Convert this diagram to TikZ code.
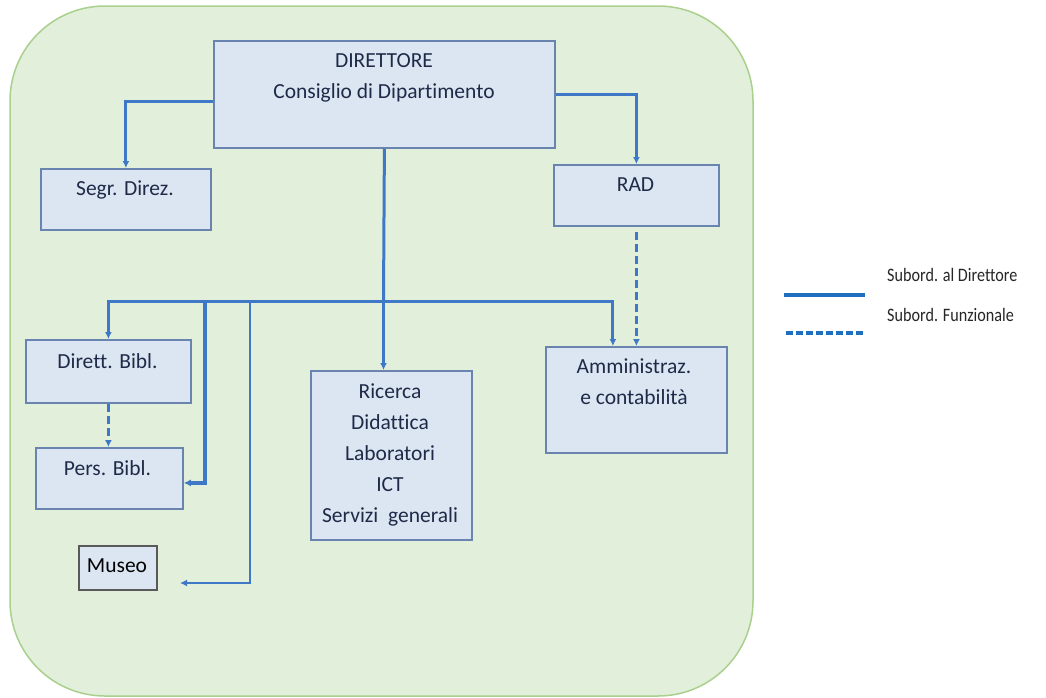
\documentclass[tikz,border=0pt]{standalone}
\usepackage{fontspec}
\setmainfont[Ligatures={NoCommon}]{Carlito}
\usetikzlibrary{arrows.meta}
\definecolor{bgfill}{HTML}{E2EFDA}
\definecolor{bgline}{HTML}{A9D08E}
\definecolor{boxfill}{HTML}{DCE6F2}
\definecolor{boxline}{HTML}{6A84B0}
\definecolor{connc}{HTML}{3F78C6}
\definecolor{legc}{HTML}{1F6FC0}
\definecolor{txtc}{HTML}{1F2A48}
\begin{document}
\begin{tikzpicture}[x=1pt,y=-1pt,
  box/.style={draw=boxline,fill=boxfill,line width=1.8pt,inner sep=0pt,anchor=north west},
  museobox/.style={box,draw=black!65},
  txt/.style={text=txtc,font=\fontsize{21.5}{31}\selectfont,align=center,inner sep=0pt},
  legtxt/.style={text=black!85,font=\fontsize{19}{22}\selectfont,inner sep=0pt,anchor=base west},
  conn/.style={draw=connc,line width=3pt,-{Latex[length=7pt,width=7pt]}},
  thickconn/.style={conn,line width=4pt},
  thinconn/.style={conn,line width=2.6pt},
  dconn/.style={conn,line width=2.6pt,dash pattern=on 8pt off 4pt},
  legline/.style={draw=legc,line width=3.4pt},
]
\useasboundingbox (0,0) rectangle (1046,697);
% background
\filldraw[fill=bgfill,draw=bgline,line width=1.5pt,rounded corners=95pt] (10,6) rectangle (753,696);

% boxes
\node[box,minimum width=341pt,minimum height=107pt] (dir) at (213,40) {};
\node[box,minimum width=170pt,minimum height=61pt] (segr) at (40,168) {};
\node[box,minimum width=165pt,minimum height=61pt] (rad) at (553,164) {};
\node[box,minimum width=165pt,minimum height=63pt] (dirett) at (25,339) {};
\node[box,minimum width=147pt,minimum height=61pt] (pers) at (35,447) {};
\node[museobox,minimum width=78pt,minimum height=44pt] (museo) at (78,545) {};
\node[box,minimum width=161pt,minimum height=169pt] (ric) at (310,370) {};
\node[box,minimum width=181pt,minimum height=106pt] (amm) at (545,346) {};

% texts
\node[txt] (dirT) at (384,78) {DIRETTORE\\Consiglio di Dipartimento};
\node[txt] (segrT) at (125,190) {Segr. Direz.};
\node[txt] (radT) at (635.5,185) {RAD};
\node[txt] (direttT) at (107.5,361) {Dirett. Bibl.};
\node[txt] (persT) at (107.5,468) {Pers. Bibl.};
\node[txt,text=black] (museoT) at (117,566) {Museo};
\node[txt] (ricT) at (390,455) {Ricerca\\Didattica\\Laboratori\\ICT\\Servizi\ \ generali};
\node[txt] (ammT) at (634,382) {Amministraz.\\e contabilità};

% connectors
\draw[conn] ([yshift=-7.5pt]dir.west) -| (segr.north);
\draw[conn] (dir.east) -| (rad.north);
\coordinate (bus) at (383.5,301);
\draw[conn,-] (dir.south) -- (bus);
\draw[conn] (bus) -- (bus |- ric.north);
\draw[conn] (bus) -| (dirett.north);
\draw[conn] (bus) -| ([xshift=-23.5pt]amm.north);
\draw[dconn] (dirett.south) -- (dirett.south |- pers.north);
\coordinate (b1) at (205,301);
\draw[thickconn] (b1) |- ([yshift=-4.5pt]pers.east);
\coordinate (b2) at (250,301);
\coordinate (mEnd) at (180,583);
\draw[thinconn] (b2) |- (mEnd);
\draw[dconn] ([yshift=-5pt]rad.south) -- (amm.north);

% legend
\coordinate (l1a) at (784,295);
\coordinate (l1b) at (865,295);
\coordinate (l2a) at (786,333);
\coordinate (l2b) at (866,333);
\draw[legline] (l1a) -- (l1b);
\draw[legline,dash pattern=on 7pt off 3pt] (l2a) -- (l2b);
\node[legtxt] (leg1) at (887,281) {\scalebox{0.85}[1]{Subord. al Direttore}};
\node[legtxt] (leg2) at (887,321) {\scalebox{0.85}[1]{Subord. Funzionale}};
\end{tikzpicture}
\end{document}
